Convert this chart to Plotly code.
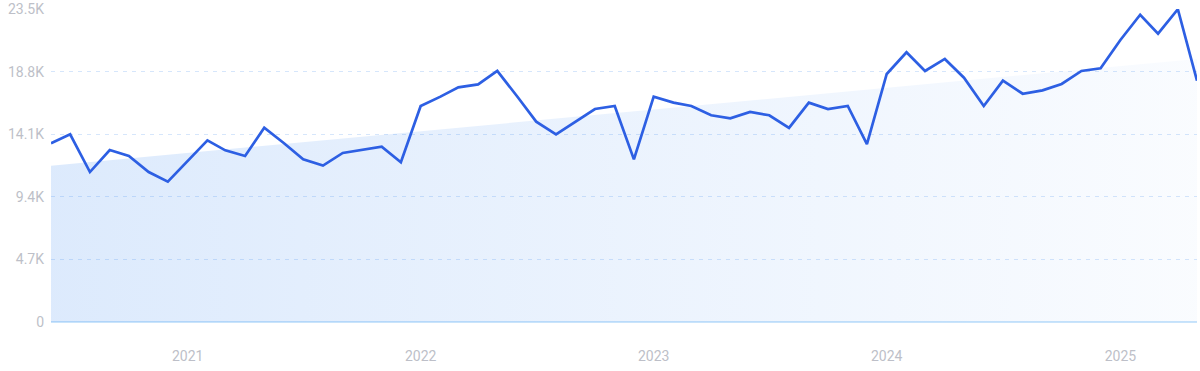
import plotly.graph_objects as go
import pandas as pd

months = pd.date_range("2020-06-01", "2025-05-01", freq="MS").strftime("%Y-%m-%d").tolist()
values = [
    13420, 14090, 11260, 12910, 12460, 11260, 10540,
    12090, 13640, 12890, 12460, 14590, 13420, 12210, 11740, 12690, 12910, 13160, 11990,
    16220, 16920, 17620, 17840, 18850, 16950, 15040, 14090, 15040, 15990, 16220, 12210,
    16920, 16470, 16220, 15520, 15290, 15770, 15520, 14570, 16470, 15990, 16220, 13360,
    18620, 20250, 18850, 19750, 18340, 16220, 18120, 17140, 17390, 17870, 18850, 19050,
    21170, 23070, 21650, 23480, 18120,
]
trend_x = [months[0], months[-1]]
trend_y = [11740, 19750]

y_ticks = [0, 4700, 9400, 14100, 18800, 23500]
y_tick_labels = ["0", "4.7K", "9.4K", "14.1K", "18.8K", "23.5K"]
x_ticks = ["2021-01-01", "2022-01-01", "2023-01-01", "2024-01-01", "2025-01-01"]
x_tick_labels = ["2021", "2022", "2023", "2024", "2025"]

fig = go.Figure()
fig.add_trace(go.Scatter(
    x=trend_x, y=trend_y, mode="lines", line=dict(width=0),
    fill="tozeroy",
    fillgradient=dict(type="horizontal",
                      colorscale=[[0, "rgba(40,125,240,0.16)"],
                                  [1, "rgba(40,125,240,0.025)"]]),
    hoverinfo="skip", showlegend=False,
))
fig.add_trace(go.Scatter(
    x=months, y=values, mode="lines",
    line=dict(color="#2d5fe3", width=2.7),
    showlegend=False,
))

fig.update_layout(
    width=1200, height=371,
    margin=dict(l=51, r=3, t=9, b=49),
    paper_bgcolor="white", plot_bgcolor="white",
    font=dict(family="Roboto, sans-serif", size=14, color="#bdbfc8"),
    xaxis=dict(
        range=[months[0], months[-1]], automargin=False,
        tickvals=x_ticks, ticktext=x_tick_labels,
        showgrid=False, zeroline=False, showline=False,
        ticks="", ticklabelstandoff=24,
    ),
    yaxis=dict(
        range=[0, 23500], automargin=False,
        tickvals=y_ticks, ticktext=y_tick_labels,
        showgrid=True, gridcolor="#d6e6fb", griddash="4px,5px", gridwidth=1,
        zeroline=True, zerolinecolor="#c9e4fb", zerolinewidth=1.5,
        showline=False, ticks="", ticklabelstandoff=6,
    ),
)
fig.write_html("out.html",
               config={"displayModeBar": False},
               post_script="document.body.style.margin='0';document.body.style.overflow='hidden';")
